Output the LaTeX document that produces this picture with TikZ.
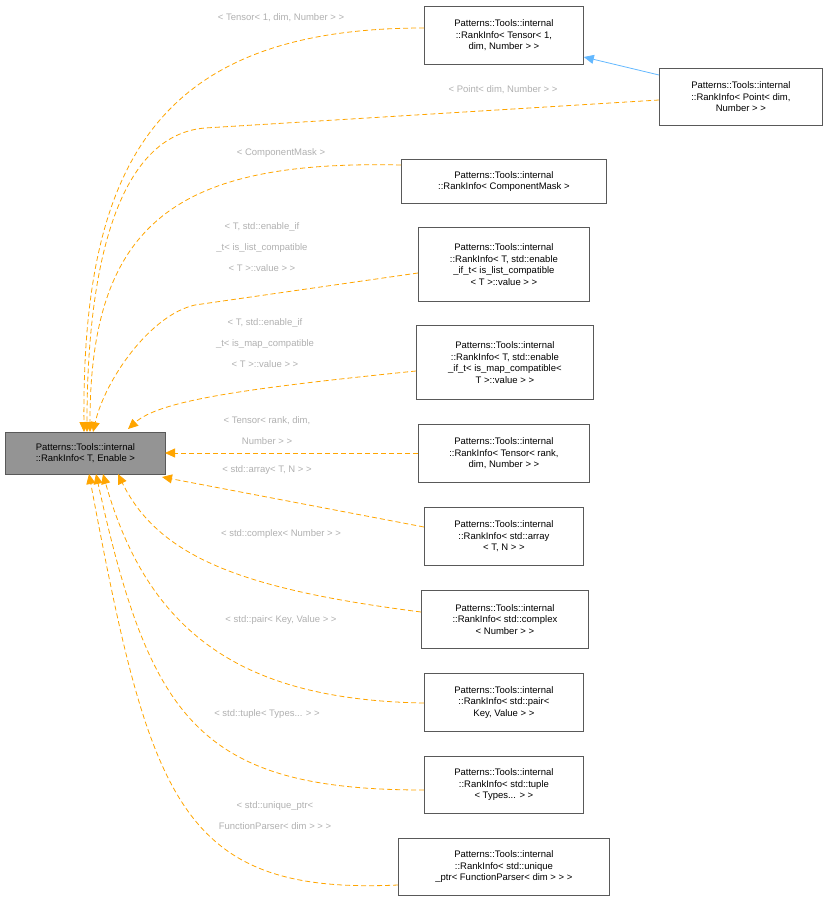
\documentclass[tikz,border=0pt]{standalone}
\usepackage{fontspec}
\setmainfont{Liberation Sans}
\usetikzlibrary{arrows.meta}
\definecolor{edgeor}{HTML}{FFA500}
\definecolor{edgebl}{HTML}{63B8FF}
\definecolor{lblgray}{HTML}{B0B0B0}
\begin{document}
\begin{tikzpicture}[x=1pt,y=-1pt,
  box/.style={draw=black!65,fill=white,line width=0.8pt,inner sep=0pt,align=center,font=\fontsize{9.5}{11.5}\selectfont,anchor=north west},
  dep/.style={draw=edgeor,dashed,dash pattern=on 5pt off 3pt,line width=0.8pt,-{Triangle[length=10pt,width=9pt]}},
  inh/.style={draw=edgebl,line width=0.8pt,-{Triangle[length=10pt,width=9pt]}},
  lbl/.style={text=lblgray,align=center,font=\fontsize{9.5}{21}\selectfont}]
\useasboundingbox (0,0) rectangle (826,901);
\newcommand{\bx}[6]{\node[box,minimum width=#4-#2,minimum height=#5-#3] (#1) at (#2,#3) {#6};}
\node[box,fill=black!42,minimum width=160,minimum height=42] (m) at (5,432) {Patterns::Tools::internal\\::RankInfo< T, Enable >};
\bx{n1}{424}{6}{583}{64}{Patterns::Tools::internal\\::RankInfo< Tensor< 1,\\ dim, Number > >}
\bx{n2}{659}{68}{822}{125}{Patterns::Tools::internal\\::RankInfo< Point< dim,\\ Number > >}
\bx{n3}{401}{159}{606}{203}{Patterns::Tools::internal\\::RankInfo< ComponentMask >}
\bx{n4}{418}{227}{589}{301}{Patterns::Tools::internal\\::RankInfo< T, std::enable\\\_if\_t< is\_list\_compatible\\< T >::value > >}
\bx{n5}{416}{325}{593}{399}{Patterns::Tools::internal\\::RankInfo< T, std::enable\\\_if\_t< is\_map\_compatible<\\ T >::value > >}
\bx{n6}{418}{424}{589}{482}{Patterns::Tools::internal\\::RankInfo< Tensor< rank,\\ dim, Number > >}
\bx{n7}{424}{507}{583}{565}{Patterns::Tools::internal\\::RankInfo< std::array\\< T, N > >}
\bx{n8}{421}{590}{588}{648}{Patterns::Tools::internal\\::RankInfo< std::complex\\< Number > >}
\bx{n9}{424}{673}{583}{731}{Patterns::Tools::internal\\::RankInfo< std::pair<\\ Key, Value > >}
\bx{n10}{424}{756}{583}{813}{Patterns::Tools::internal\\::RankInfo< std::tuple\\< Types... > >}
\bx{n11}{398}{838}{609}{895}{Patterns::Tools::internal\\::RankInfo< std::unique\\\_ptr< FunctionParser< dim > > >}

\draw[inh] (n2.west |- 0,75) -- (n1.east |- 0,57);
\draw[dep] (n1.west |- 0,28) .. controls (160,28) and (82,160) .. (84,432);
\draw[dep] (n2.west |- 0,100) -- (205,128) .. controls (120,135) and (87,260) .. (87,432);
\draw[dep] (n3.west |- 0,165) .. controls (180,160) and (90,220) .. (90,432);
\draw[dep] (n4.west |- 0,273) -- (195,305) .. controls (150,315) and (105,380) .. (93,432);
\draw[dep] (n5.west |- 0,371) .. controls (250,388) and (160,400) .. (128,429);
\draw[dep] (n6.west |- 0,453) -- (165,453);
\draw[dep] (n7.west |- 0,527) -- (162,477);
\draw[dep] (n8.west |- 0,612) .. controls (250,590) and (160,560) .. (118,474);
\draw[dep] (n9.west |- 0,703) .. controls (250,700) and (150,640) .. (103,474);
\draw[dep] (n10.west |- 0,790) .. controls (200,790) and (150,720) .. (96,474);
\draw[dep] (n11.west |- 0,885) .. controls (180,895) and (150,800) .. (89,474);

\node[lbl] (l1) at (281,18) {< Tensor< 1, dim, Number > >};
\node[lbl] (l2) at (503,90) {< Point< dim, Number > >};
\node[lbl] (l3) at (281,153) {< ComponentMask >};
\node[lbl] (l4) at (262,247) {< T, std::enable\_if\\\_t< is\_list\_compatible\\< T >::value > >};
\node[lbl] (l5) at (265,343) {< T, std::enable\_if\\\_t< is\_map\_compatible\\< T >::value > >};
\node[lbl] (l6) at (267,431) {< Tensor< rank, dim,\\Number > >};
\node[lbl] (l7) at (267,470) {< std::array< T, N > >};
\node[lbl] (l8) at (281,534) {< std::complex< Number > >};
\node[lbl] (l9) at (281,620) {< std::pair< Key, Value > >};
\node[lbl] (l10) at (267,714) {< std::tuple< Types... > >};
\node[lbl] (l11) at (275,816) {< std::unique\_ptr<\\FunctionParser< dim > > >};
\end{tikzpicture}
\end{document}
